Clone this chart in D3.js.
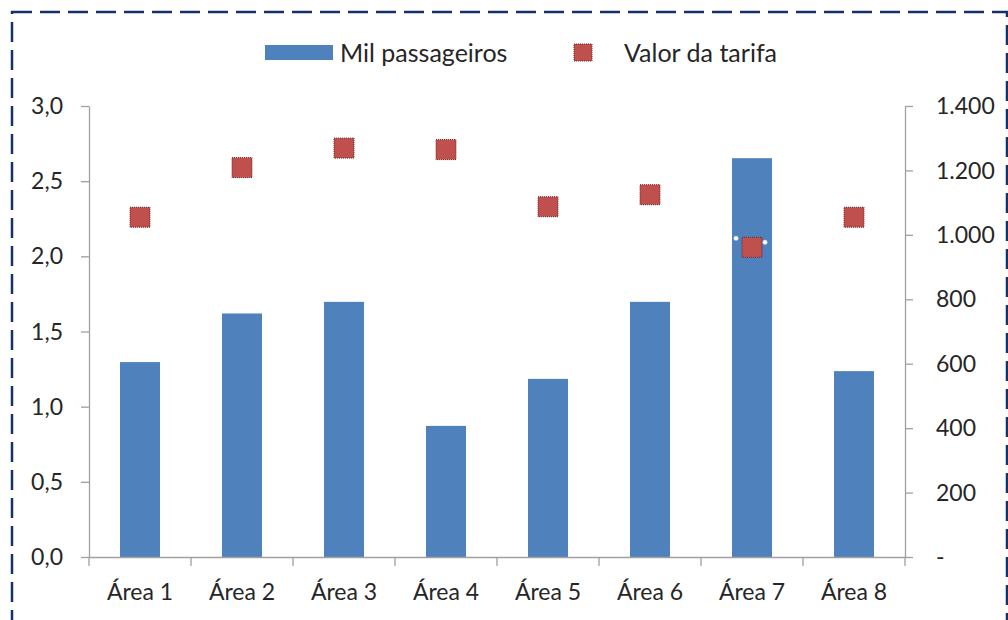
<!DOCTYPE html>
<html><head><meta charset="utf-8">
<script src="https://cdn.jsdelivr.net/npm/d3@7"></script>
<style>
html,body{margin:0;padding:0;background:#fff;}
svg{display:block;}
text{font-family:Lato,"Open Sans",sans-serif;fill:#262626;}
</style></head>
<body>
<svg id="chart" width="1008" height="620"></svg>
<script>
const categories = ["Área 1","Área 2","Área 3","Área 4","Área 5","Área 6","Área 7","Área 8"];
const passageiros = [605, 756, 792, 407, 553, 792, 1238, 577];   // right axis (Mil passageiros)
const tarifa = [2.26, 2.59, 2.72, 2.71, 2.33, 2.41, 2.06, 2.26]; // left axis (Valor da tarifa)
const leftTicks = [0, 0.5, 1.0, 1.5, 2.0, 2.5, 3.0];
const rightTicks = [0, 200, 400, 600, 800, 1000, 1200, 1400];
const seriesNames = ["Mil passageiros", "Valor da tarifa"];

const svg = d3.select("#chart");
const W = 1008, H = 620;
const m = {left: 89, right: 1008 - 905, top: 106, bottom: 620 - 557};
const pw = W - m.left - m.right, ph = H - m.top - m.bottom;

// dashed border
svg.append("rect").attr("x", 12).attr("y", 12).attr("width", 995).attr("height", 700)
  .attr("fill", "none").attr("stroke", "#15306b").attr("stroke-width", 2.5)
  .attr("stroke-dasharray", "20,8");

const g = svg.append("g").attr("transform", `translate(${m.left},${m.top})`);

const x = d3.scaleBand().domain(categories).range([0, pw]).paddingInner(0).paddingOuter(0);
const yL = d3.scaleLinear().domain([0, 3]).range([ph, 0]);
const yR = d3.scaleLinear().domain([0, 1400]).range([ph, 0]);

const fmtL = v => d3.format(".1f")(v).replace(".", ",");
const fmtR = v => v === 0 ? "-" : d3.format(",")(v).replace(/,/g, ".");

const axisColor = "#a0a0a0";
const fontSize = 23;
const legendFont = 25;

// bars
const bw = 40;
g.selectAll("rect.bar").data(categories).join("rect")
  .attr("class", "bar")
  .attr("x", (d) => x(d) + x.bandwidth() / 2 - bw / 2)
  .attr("y", (d, i) => yR(passageiros[i]))
  .attr("width", bw)
  .attr("height", (d, i) => ph - yR(passageiros[i]))
  .attr("fill", "#4f81bd");

// left axis
const axL = g.append("g").call(d3.axisLeft(yL).tickValues(leftTicks).tickFormat(fmtL).tickSize(8).tickSizeOuter(0));
// right axis
const axR = g.append("g").attr("transform", `translate(${pw},0)`)
  .call(d3.axisRight(yR).tickValues(rightTicks).tickFormat(fmtR).tickSize(8).tickSizeOuter(0));
// bottom axis with ticks between categories
const axB = g.append("g").attr("transform", `translate(0,${ph})`)
  .call(d3.axisBottom(x).tickSize(0).tickSizeOuter(0));
axB.selectAll(".tick").each(function(d){
  d3.select(this).append("line").attr("x1", -x.bandwidth()/2).attr("x2", -x.bandwidth()/2)
    .attr("y1", 0).attr("y2", 9).attr("stroke", axisColor);
});
axB.append("line").attr("x1", pw).attr("x2", pw).attr("y1", 0).attr("y2", 9).attr("stroke", axisColor);

[axL, axR, axB].forEach(a => {
  a.selectAll("path.domain").attr("stroke", axisColor).attr("stroke-width", 1.3);
  a.selectAll("line").attr("stroke", axisColor).attr("stroke-width", 1.3);
  a.selectAll("text").attr("font-size", fontSize).attr("font-family", "Lato, 'Open Sans', sans-serif").attr("fill", "#262626");
});
axL.selectAll("text").attr("x", -26).attr("dy", "0.33em");
axR.selectAll("text").attr("x", 31).attr("dy", "0.33em");
axB.selectAll(".tick text").attr("y", 43).attr("dy", 0);

// squares (tarifa)
const sq = 20;
g.selectAll("rect.sq").data(categories).join("rect")
  .attr("class", "sq")
  .attr("x", d => x(d) + x.bandwidth() / 2 - sq / 2)
  .attr("y", (d, i) => yL(tarifa[i]) - sq / 2)
  .attr("width", sq).attr("height", sq)
  .attr("fill", "#c0504d").attr("stroke", "#6b2a28").attr("stroke-width", 1)
  .attr("stroke-dasharray", "1,1");

// small selection handles near Área 7 marker
const c7 = x(categories[6]) + x.bandwidth() / 2, y7 = yL(tarifa[6]);
[[-16, -9], [13, -5]].forEach(([dx, dy]) => {
  g.append("circle").attr("cx", c7 + dx).attr("cy", y7 + dy).attr("r", 2.2)
    .attr("fill", "#fff").attr("stroke", "#c8d4e8").attr("stroke-width", 0.5);
});

// legend
const lg = svg.append("g");
lg.append("rect").attr("x", 265).attr("y", 45).attr("width", 68).attr("height", 15).attr("fill", "#4f81bd");
lg.append("text").attr("x", 340).attr("y", 62).attr("font-size", legendFont).text(seriesNames[0]);
lg.append("rect").attr("x", 574).attr("y", 44).attr("width", 18).attr("height", 17)
  .attr("fill", "#c0504d").attr("stroke", "#6b2a28").attr("stroke-width", 1).attr("stroke-dasharray", "1,1");
lg.append("text").attr("x", 624).attr("y", 62).attr("font-size", legendFont).text(seriesNames[1]);
</script>
</body></html>
